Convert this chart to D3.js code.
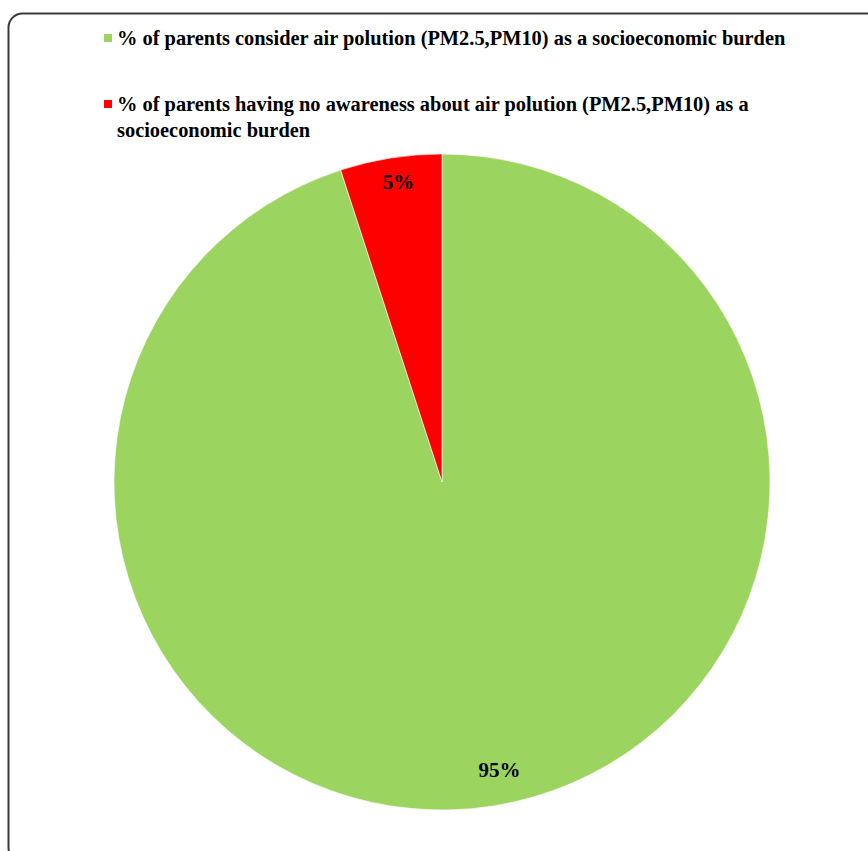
<!DOCTYPE html>
<html>
<head>
<meta charset="utf-8">
<script src="https://cdn.jsdelivr.net/npm/d3@7"></script>
<style>
  html, body { margin: 0; padding: 0; background: #fff; }
</style>
</head>
<body>
<div id="chart"></div>
<script>
// data
const categories = [
    "% of parents consider air polution (PM2.5,PM10) as a socioeconomic burden",
    "% of parents having no awareness about air polution (PM2.5,PM10) as a socioeconomic burden"
];
const legendLines = [
    ["% of parents consider air polution (PM2.5,PM10) as a socioeconomic burden"],
    ["% of parents having no awareness about air polution (PM2.5,PM10) as a", "socioeconomic burden"]
];
const values = [95, 5];
const sliceLabels = ["95%", "5%"];
const colors = ["#9BD55F", "#FF0000"];

const width = 868;
const height = 851;
const cx = 442, cy = 482;
const radius = 328;
const serif = "'Liberation Serif', 'Times New Roman', Times, serif";

const svg = d3.select("#chart")
    .append("svg")
    .attr("width", width)
    .attr("height", height);

// outer frame (cut off at right and bottom)
svg.append("rect")
    .attr("x", 8.5)
    .attr("y", 13.5)
    .attr("width", 900)
    .attr("height", 848)
    .attr("rx", 14)
    .attr("fill", "none")
    .style("stroke", "#3a3a3a")
    .style("stroke-width", "2");

// legend
const legendY = [45, 111];
const legend = svg.selectAll(".legend")
    .data(categories)
    .enter()
    .append("g")
    .attr("class", "legend");

legend.append("rect")
    .attr("x", 104)
    .attr("y", function (d, i) { return legendY[i] - 11; })
    .attr("width", 8)
    .attr("height", 8)
    .attr("fill", function (d, i) { return colors[i]; });

legend.append("text")
    .attr("x", 117)
    .attr("y", function (d, i) { return legendY[i]; })
    .attr("font-family", serif)
    .attr("font-weight", "bold")
    .attr("font-size", "20.4px")
    .style("fill", "#000")
    .each(function (d, i) {
        const t = d3.select(this);
        legendLines[i].forEach(function (line, j) {
            t.append("tspan")
                .attr("x", 117)
                .attr("dy", j === 0 ? 0 : 26)
                .text(line);
        });
    });

// pie
const pie = d3.pie()
    .sort(null)
    .value(function (d) { return d; });
const data_ready = pie(values);

const arc = d3.arc()
    .innerRadius(0)
    .outerRadius(radius);

const g = svg.append("g")
    .attr("transform", "translate(" + cx + "," + cy + ")");

g.selectAll(".slice")
    .data(data_ready)
    .enter()
    .append("path")
    .attr("class", "slice")
    .attr("d", arc)
    .attr("fill", function (d, i) { return colors[i]; })
    .style("stroke", "#fff")
    .style("stroke-width", "0.6");

// labels near the outer edge
const labelRadius = [291, 304];
const labelShift = [12, 4];
g.selectAll(".label")
    .data(data_ready)
    .enter()
    .append("text")
    .attr("class", "label")
    .attr("transform", function (d, i) {
        const a = d3.arc().innerRadius(labelRadius[i]).outerRadius(labelRadius[i]);
        const c = a.centroid(d);
        return "translate(" + (c[0] + labelShift[i]) + "," + c[1] + ")";
    })
    .attr("text-anchor", "middle")
    .attr("dy", "0.35em")
    .attr("font-family", serif)
    .attr("font-weight", "bold")
    .attr("font-size", "21px")
    .style("fill", "#000")
    .text(function (d, i) { return sliceLabels[i]; });
</script>
</body>
</html>
